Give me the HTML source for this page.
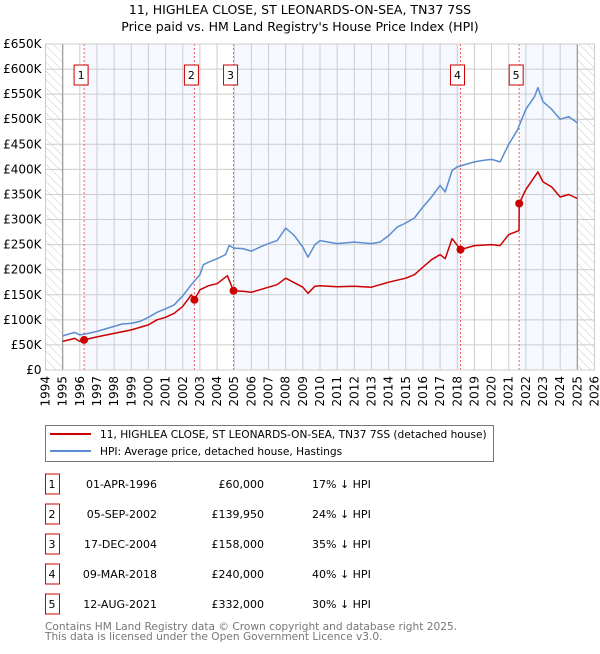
<!DOCTYPE html>
<html><head><meta charset="utf-8">
<style>
body{margin:0;background:#fff;font-family:"DejaVu Sans","Liberation Sans",sans-serif;}
svg text{font-family:"DejaVu Sans","Liberation Sans",sans-serif;}
</style></head>
<body>
<svg id="chart" width="600" height="650" viewBox="0 0 600 650" xmlns="http://www.w3.org/2000/svg">
<defs>
<pattern id="hatch" width="6" height="6" patternUnits="userSpaceOnUse" patternTransform="rotate(-45)">
<line x1="0" y1="0" x2="0" y2="6" stroke="#ccc" stroke-width="1"/>
</pattern>
</defs>
<text x="300" y="14" text-anchor="middle" font-size="12.5">11, HIGHLEA CLOSE, ST LEONARDS-ON-SEA, TN37 7SS</text>
<text x="300" y="31" text-anchor="middle" font-size="12.5">Price paid vs. HM Land Registry's House Price Index (HPI)</text>
<g id="plot"></g>
<rect x="45.5" y="425.5" width="448" height="36" fill="#fff" stroke="#777"/>
<line x1="50" y1="434" x2="91" y2="434" stroke="#cc0000" stroke-width="2"/>
<text x="100" y="438" font-size="10.6">11, HIGHLEA CLOSE, ST LEONARDS-ON-SEA, TN37 7SS (detached house)</text>
<line x1="50" y1="451" x2="91" y2="451" stroke="#5b8dd0" stroke-width="2"/>
<text x="100" y="455" font-size="10.6">HPI: Average price, detached house, Hastings</text>
<g id="table"></g>
<text x="45" y="630" font-size="10.6" fill="#777">Contains HM Land Registry data © Crown copyright and database right 2025.</text>
<text x="45" y="640" font-size="10.6" fill="#777">This data is licensed under the Open Government Licence v3.0.</text>
</svg>
<script>
const yTicks=[0,50,100,150,200,250,300,350,400,450,500,550,600,650];
const yTickLabels=["£0","£50K","£100K","£150K","£200K","£250K","£300K","£350K","£400K","£450K","£500K","£550K","£600K","£650K"];
const xYears=[1994,1995,1996,1997,1998,1999,2000,2001,2002,2003,2004,2005,2006,2007,2008,2009,2010,2011,2012,2013,2014,2015,2016,2017,2018,2019,2020,2021,2022,2023,2024,2025,2026];
const hpiT=[1995,1995.7,1996,1996.5,1997,1998,1998.5,1999,1999.5,2000,2000.5,2001,2001.5,2002,2002.5,2003,2003.2,2003.5,2004,2004.5,2004.7,2005,2005.5,2006,2006.5,2007,2007.5,2008,2008.5,2009,2009.3,2009.7,2010,2011,2012,2013,2013.5,2014,2014.5,2015,2015.5,2016,2016.5,2017,2017.3,2017.7,2018,2018.5,2019,2019.5,2020,2020.5,2021,2021.5,2022,2022.5,2022.7,2023,2023.5,2024,2024.5,2025];
const hpiV=[68,75,70,73,77,87,92,93,97,105,115,122,130,148,170,190,210,215,222,230,248,243,242,237,245,252,258,283,268,245,225,250,258,252,255,252,255,268,285,293,303,325,345,368,355,398,405,410,415,418,420,415,450,478,520,545,563,535,520,500,505,493];
const ppT=[1995,1995.7,1996,1996.25,1997,1998,1999,2000,2000.5,2001,2001.5,2002,2002.5,2002.68,2003,2003.5,2004,2004.6,2004.96,2005.5,2006,2007,2007.5,2008,2009,2009.3,2009.7,2010,2011,2012,2013,2014,2015,2015.5,2016,2016.5,2017,2017.3,2017.7,2018.19,2018.5,2019,2020,2020.5,2021,2021.6,2021.61,2022,2022.7,2023,2023.5,2024,2024.5,2025];
const ppV=[57,63,57,60,66,73,80,90,100,105,113,127,150,140,160,168,172,188,158,157,155,165,170,183,165,153,167,168,166,167,165,175,183,190,205,220,230,222,262,240,243,248,250,248,270,278,332,360,395,375,365,345,350,342];
const saleT=[1996.25,2002.68,2004.96,2018.19,2021.61];
const saleV=[60,139.95,158,240,332];
const saleLabels=["1","2","3","4","5"];
const saleDates=["01-APR-1996","05-SEP-2002","17-DEC-2004","09-MAR-2018","12-AUG-2021"];
const salePrices=["£60,000","£139,950","£158,000","£240,000","£332,000"];
const saleHpi=["17% ↓ HPI","24% ↓ HPI","35% ↓ HPI","40% ↓ HPI","30% ↓ HPI"];

const NS="http://www.w3.org/2000/svg";
const X0=45.5,X1=594.5,Y0=370,Y1=44;
const xs=t=>X0+(t-1994)/(2026-1994)*(X1-X0);
const ys=v=>Y0-v/650*(Y0-Y1);
const plot=document.getElementById('plot');
function mk(tag,at,parent){const e=document.createElementNS(NS,tag);for(const k in at)e.setAttribute(k,at[k]);(parent||plot).appendChild(e);return e;}
let e=mk('rect',{x:X0,y:Y1,width:X1-X0,height:Y0-Y1,fill:'#fff'});


const bands=[[saleT[0],saleT[1]],[saleT[2],saleT[3]],[saleT[4],2025]];
bands.forEach(b=>{const r=mk('rect',{x:xs(b[0]),y:Y1,width:xs(b[1])-xs(b[0]),height:Y0-Y1,fill:'#eef3fd',opacity:0.6});

});
e=mk('rect',{x:X0,y:Y1,width:xs(1995)-X0,height:Y0-Y1,fill:'url(#hatch)'});


e=mk('rect',{x:xs(2025),y:Y1,width:X1-xs(2025),height:Y0-Y1,fill:'url(#hatch)'});


yTicks.forEach((v,i)=>{const l=mk('line',{x1:X0,x2:X1,y1:ys(v),y2:ys(v),stroke:'#ccc','stroke-width':1});


const t=mk('text',{x:X0-4,y:ys(v)+4,'text-anchor':'end','font-size':12});t.textContent=yTickLabels[i];

});
xYears.forEach(yr=>{const l=mk('line',{x1:xs(yr),x2:xs(yr),y1:Y1,y2:Y0,stroke:'#ccc','stroke-width':1});


const t=mk('text',{x:0,y:0,'font-size':12,'text-anchor':'end',transform:`translate(${xs(yr)+4},${Y0+6}) rotate(-90)`});t.textContent=yr;

});
e=mk('line',{x1:xs(1995),x2:xs(1995),y1:Y1,y2:Y0,stroke:'#999','stroke-width':1.2});


e=mk('line',{x1:xs(2025),x2:xs(2025),y1:Y1,y2:Y0,stroke:'#999','stroke-width':1.2});


saleT.forEach(t=>{const l=mk('line',{x1:xs(t),x2:xs(t),y1:Y1,y2:Y0,stroke:'#f06060','stroke-width':1,'stroke-dasharray':'2,2'});

});
function line(T,V,c,name){const p=mk('polyline',{points:T.map((t,i)=>xs(t).toFixed(1)+','+ys(V[i]).toFixed(1)).join(' '),fill:'none',stroke:c,'stroke-width':1.5,'stroke-linejoin':'round'});

}
line(hpiT,hpiV,'#5b8dd0','hpi-line');
line(ppT,ppV,'#cc0000','price-paid-line');
saleT.forEach((t,i)=>{const c=mk('circle',{cx:xs(t),cy:ys(saleV[i]),r:4,fill:'#cc0000'});


const g=mk('rect',{x:xs(t)-10,y:65,width:14,height:20,fill:'#fff',stroke:'#cc0000'});


const tx=mk('text',{x:xs(t)-3,y:79,'text-anchor':'middle','font-size':11});tx.textContent=saleLabels[i];

});
e=mk('rect',{x:X0,y:Y1,width:X1-X0,height:Y0-Y1,fill:'none',stroke:'#ccc'});


const tb=document.getElementById('table');
saleLabels.forEach((s,i)=>{const cy=484+i*30;
let r=mk('rect',{x:45.5,y:cy-10,width:14,height:20,fill:'#fff',stroke:'#cc0000'},tb);


const cells=[[52,s,'middle'],[157,saleDates[i],'end'],[264,salePrices[i],'end'],[312,saleHpi[i],'start']];
cells.forEach((c,j)=>{const t=mk('text',{x:c[0],y:cy+4,'text-anchor':c[2],'font-size':11},tb);t.textContent=c[1];

});});
</script>
</body></html>
